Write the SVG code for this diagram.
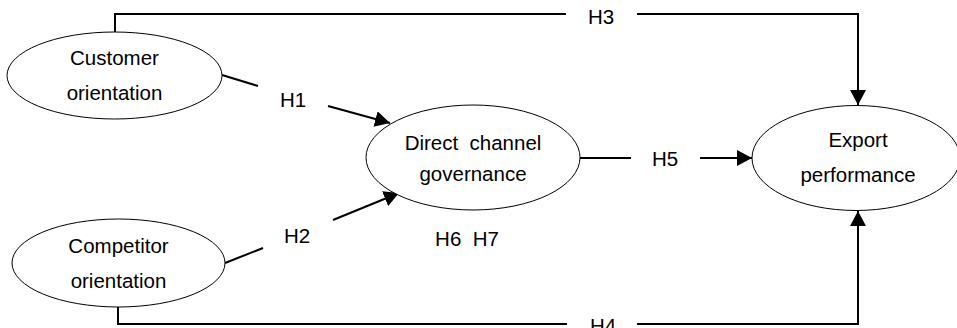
<svg xmlns="http://www.w3.org/2000/svg" width="957" height="328" viewBox="0 0 957 328">
<style>
.node ellipse{fill:#fff;stroke:#000;stroke-width:1}
text{font-family:"Liberation Sans",Arial,sans-serif;font-size:20.5px;fill:#000;text-anchor:middle}
.conn path{fill:none;stroke:#000;stroke-width:2}
</style>
<defs>
<marker id="arr" markerUnits="userSpaceOnUse" markerWidth="16" markerHeight="16" refX="15" refY="8" orient="auto">
<path d="M0,0 L15,8 L0,16 z" fill="#000"/>
</marker>
</defs>
<rect width="957" height="328" fill="#fff"/>
<g id="connectors" class="conn">
<path d="M115,32 V14 H566"/>
<path d="M637,14 H858 V105" marker-end="url(#arr)"/>
<path d="M222,75 L258,86"/>
<path d="M328,106 L390,123" marker-end="url(#arr)"/>
<path d="M225,263 L263,248"/>
<path d="M333,220 L399,193" marker-end="url(#arr)"/>
<path d="M580,158 H631"/>
<path d="M700,158 H752" marker-end="url(#arr)"/>
<path d="M118,307 V324 H567"/>
<path d="M637,324 H858 V211" marker-end="url(#arr)"/>
</g>
<g id="labels">
<text x="601" y="24">H3</text>
<text x="293" y="107">H1</text>
<text x="297" y="243">H2</text>
<text x="665" y="166">H5</text>
<text x="467" y="246" xml:space="preserve">H6  H7</text>
<text x="603" y="333">H4</text>
</g>
<g id="customer" class="node">
<ellipse cx="114.5" cy="75.5" rx="107.5" ry="43.5"/>
<text x="114.5" y="65">Customer</text>
<text x="114.5" y="100">orientation</text>
</g>
<g id="competitor" class="node">
<ellipse cx="118.5" cy="263" rx="106.5" ry="44"/>
<text x="118.5" y="253">Competitor</text>
<text x="118.5" y="288">orientation</text>
</g>
<g id="direct" class="node">
<ellipse cx="473" cy="157.5" rx="107" ry="52.5"/>
<text x="473" y="150" xml:space="preserve">Direct  channel</text>
<text x="473" y="181">governance</text>
</g>
<g id="export" class="node">
<ellipse cx="856" cy="158" rx="104" ry="52.5"/>
<text x="858" y="147">Export</text>
<text x="858" y="182">performance</text>
</g>
</svg>
